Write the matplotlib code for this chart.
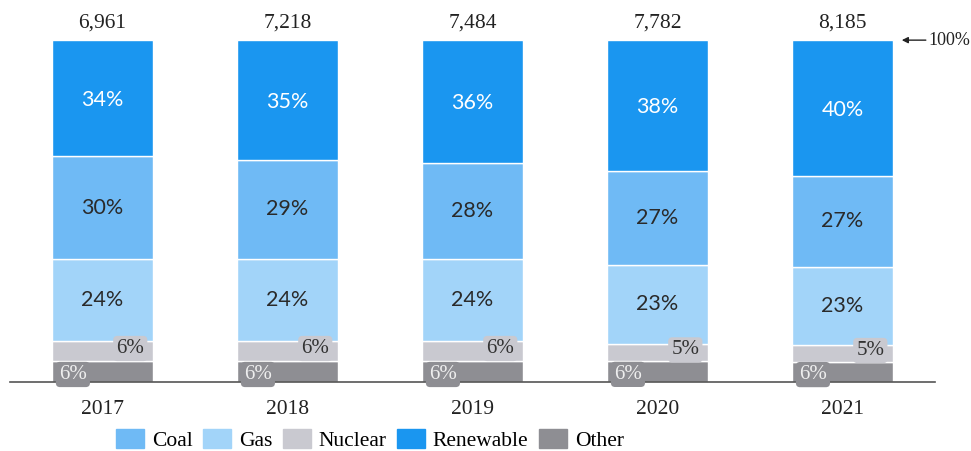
import numpy as np
import matplotlib
matplotlib.use("Agg")
import matplotlib.pyplot as plt
from matplotlib.patches import Patch

years = ["2017", "2018", "2019", "2020", "2021"]
totals = ["6,961", "7,218", "7,484", "7,782", "8,185"]
other = [6, 6, 6, 6, 6]
nuclear = [6, 6, 6, 5, 5]
gas = [24, 24, 24, 23, 23]
coal = [30, 29, 28, 27, 27]
renewable = [34, 35, 36, 38, 40]

c_coal = "#6fbaf5"
c_gas = "#a2d4f9"
c_nuc = "#c9c9d0"
c_ren = "#1a96f0"
c_oth = "#8e8e93"

serif = "Liberation Serif"

fig = plt.figure(figsize=(9.71, 4.51), dpi=100)
ax = fig.add_axes([0.0103, 0.153, 0.9527, 0.758])

x = np.arange(len(years))
w = 0.546
stack = np.array([other, nuclear, gas, coal, renewable], dtype=float)
scale = 100.0 / stack.sum(axis=0)
heights = stack * scale
colors = [c_oth, c_nuc, c_gas, c_coal, c_ren]
bottom = np.zeros(len(years))
for h, col in zip(heights, colors):
    ax.bar(x, h, w, bottom=bottom, color=col, edgecolor="white", linewidth=1.0)
    bottom += h

# big labels (gas, coal, renewable)
for i in range(len(years)):
    b0 = heights[0][i] + heights[1][i]
    ax.text(x[i], b0 + heights[2][i] / 2, f"{gas[i]}%", ha="center", va="center",
            fontsize=15.5, color="#2a2a2a", family="Lato")
    b1 = b0 + heights[2][i]
    ax.text(x[i], b1 + heights[3][i] / 2, f"{coal[i]}%", ha="center", va="center",
            fontsize=15.5, color="#2a2a2a", family="Lato")
    b2 = b1 + heights[3][i]
    ax.text(x[i], b2 + heights[4][i] / 2 - 0.5, f"{renewable[i]}%", ha="center", va="center",
            fontsize=15.5, color="white", family="Lato")
    # small boxed labels
    ax.text(x[i] + 0.15, heights[0][i] + heights[1][i] / 2 + 0.8, f"{nuclear[i]}%",
            ha="center", va="center", fontsize=15, color="#333333", family=serif,
            bbox=dict(boxstyle="round,pad=0.15,rounding_size=0.2", fc=c_nuc, ec="none"))
    ax.text(x[i] - 0.16, heights[0][i] / 2 - 0.8, f"{other[i]}%",
            ha="center", va="center", fontsize=15, color="#eeeeee", family=serif,
            bbox=dict(boxstyle="round,pad=0.15,rounding_size=0.2", fc=c_oth, ec="none"))
    ax.text(x[i], 102.3, totals[i], ha="center", va="bottom", fontsize=15.5,
            color="#222222", family=serif)

ax.annotate("", xy=(4.32, 100), xytext=(4.45, 100), xycoords="data",
            textcoords="data", annotation_clip=False,
            arrowprops=dict(arrowstyle="-|>", color="#222222", lw=1, mutation_scale=9,
                            shrinkA=0, shrinkB=0))
ax.text(4.465, 100, "100%", ha="left", va="center", fontsize=13,
        color="#222222", family=serif, clip_on=False)

ax.set_xlim(-0.5, 4.5)
ax.set_ylim(0, 100)
ax.set_yticks([])
ax.set_xticks(x)
ax.set_xticklabels(years, fontsize=15.5, family=serif, color="#222222")
ax.tick_params(axis="x", length=0, pad=13)
for s in ["top", "right", "left"]:
    ax.spines[s].set_visible(False)
ax.spines["bottom"].set_color("#555555")
ax.spines["bottom"].set_linewidth(1.2)

handles = [Patch(color=c_coal, label="Coal"), Patch(color=c_gas, label="Gas"),
           Patch(color=c_nuc, label="Nuclear"), Patch(color=c_ren, label="Renewable"),
           Patch(color=c_oth, label="Other")]
fig.legend(handles=handles, loc="center", bbox_to_anchor=(0.381, 0.024), ncol=5,
           frameon=False, prop={"family": serif, "size": 15.5}, handlelength=1.3,
           handleheight=0.95, handletextpad=0.35, columnspacing=0.5, borderpad=0)

fig.savefig("out.png", dpi=100)
